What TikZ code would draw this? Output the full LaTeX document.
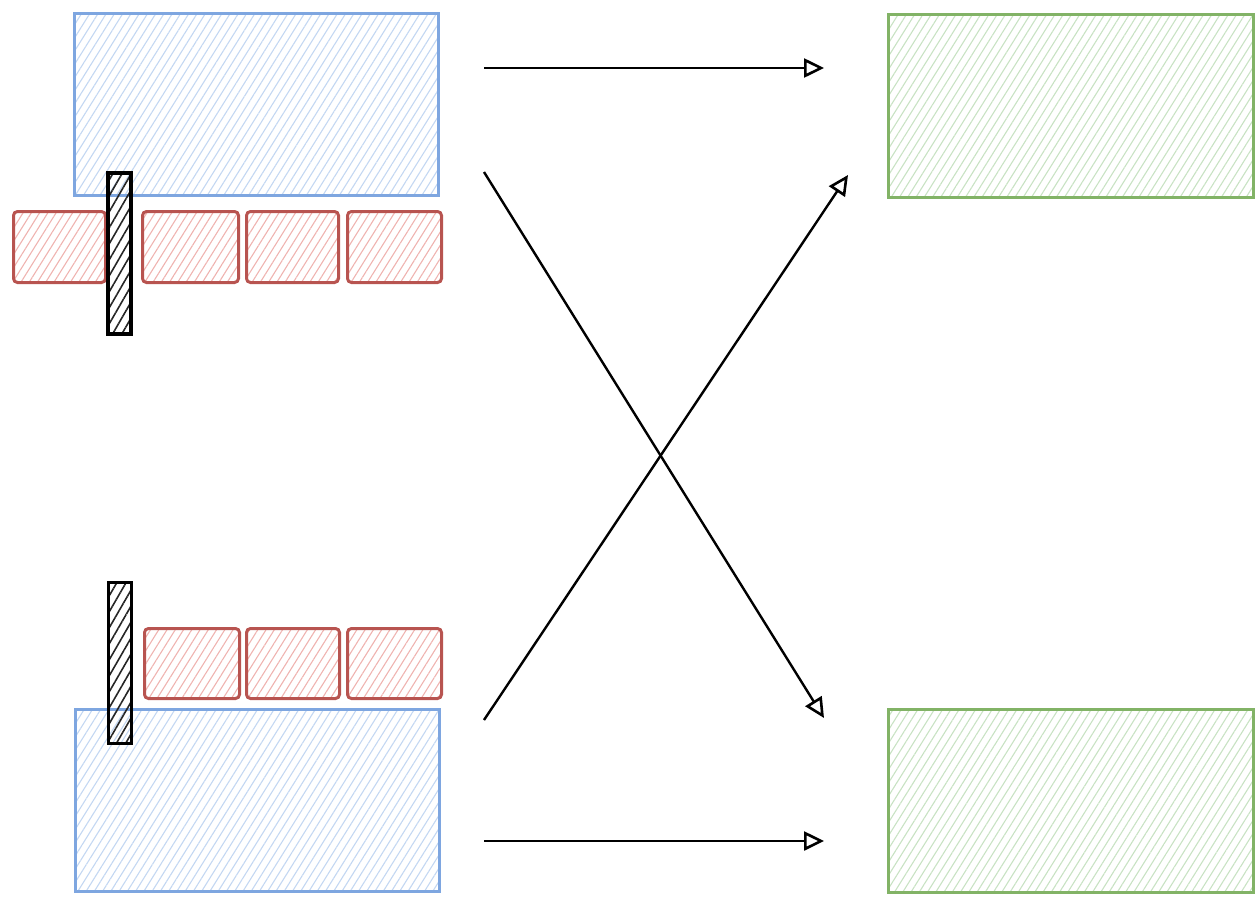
\documentclass[tikz,border=0pt]{standalone}
\usetikzlibrary{arrows.meta,patterns.meta}
\definecolor{bluefg}{HTML}{7EA6E0}
\definecolor{bluebg}{HTML}{C3D7F2}
\definecolor{greenfg}{HTML}{82B366}
\definecolor{greenbg}{HTML}{C8E2C3}
\definecolor{redfg}{HTML}{B85450}
\definecolor{redbg}{HTML}{EFB3B0}
\tikzset{
  hatch/.style={pattern={Lines[angle=58,distance=7pt,line width=1.1pt]}, pattern color=#1},
  blockbase/.style={anchor=north west, inner sep=0pt, line width=2.8pt},
  bluebox/.style={blockbase, draw=bluefg, hatch=bluebg, minimum width=364pt, minimum height=182pt},
  greenbox/.style={blockbase, draw=greenfg, hatch=greenbg, minimum width=365pt, minimum height=183pt},
  redbox/.style={blockbase, draw=redfg, line width=3pt, hatch=redbg, rounded corners=4pt, minimum height=71pt},
  barbox/.style={blockbase, draw=black, line width=3.4pt,
    pattern={Lines[angle=60,distance=8pt,line width=1.6pt]}, pattern color=black!85,
    minimum width=23pt, minimum height=161pt},
  flow/.style={line width=2.4pt, -{Triangle[open,length=20pt,width=19pt,line width=2.6pt]}}
}
\begin{document}
\begin{tikzpicture}[x=1pt,y=-1pt]
\useasboundingbox (0,0) rectangle (1259,897);
% source buffers
\node[bluebox] (srcA) at (74,13) {};
\node[bluebox] (srcB) at (74,708) {};
% destination buffers
\node[greenbox] (dstA) at (887,13) {};
\node[greenbox] (dstB) at (887,708) {};
% upper row of packets
\node[redbox, minimum width=92pt] (pa1) at (12,210) {};
\node[redbox, minimum width=96pt] (pa2) at (141,210) {};
\node[redbox, minimum width=92pt] (pa3) at (245,210) {};
\node[redbox, minimum width=94pt] (pa4) at (346,210) {};
% lower row of packets
\node[redbox, minimum width=95pt, minimum height=70pt] (pb1) at (143,627) {};
\node[redbox, minimum width=93pt, minimum height=70pt] (pb2) at (245,627) {};
\node[redbox, minimum width=94pt, minimum height=70pt] (pb3) at (346,627) {};
% barriers
\node[barbox] (barA) at (107,172) {};
\node[barbox] (barB) at (107,581) {};
% arrow end points
\coordinate (a1s) at (484,68);  \coordinate (a1e) at (824,68);
\coordinate (a2s) at (484,172); \coordinate (a2e) at (824,718);
\coordinate (a3s) at (484,720); \coordinate (a3e) at (848,175);
\coordinate (a4s) at (484,841); \coordinate (a4e) at (824,841);
\draw[flow] (a1s) -- (a1e);
\draw[flow] (a2s) -- (a2e);
\draw[flow] (a3s) -- (a3e);
\draw[flow] (a4s) -- (a4e);
\end{tikzpicture}
\end{document}
